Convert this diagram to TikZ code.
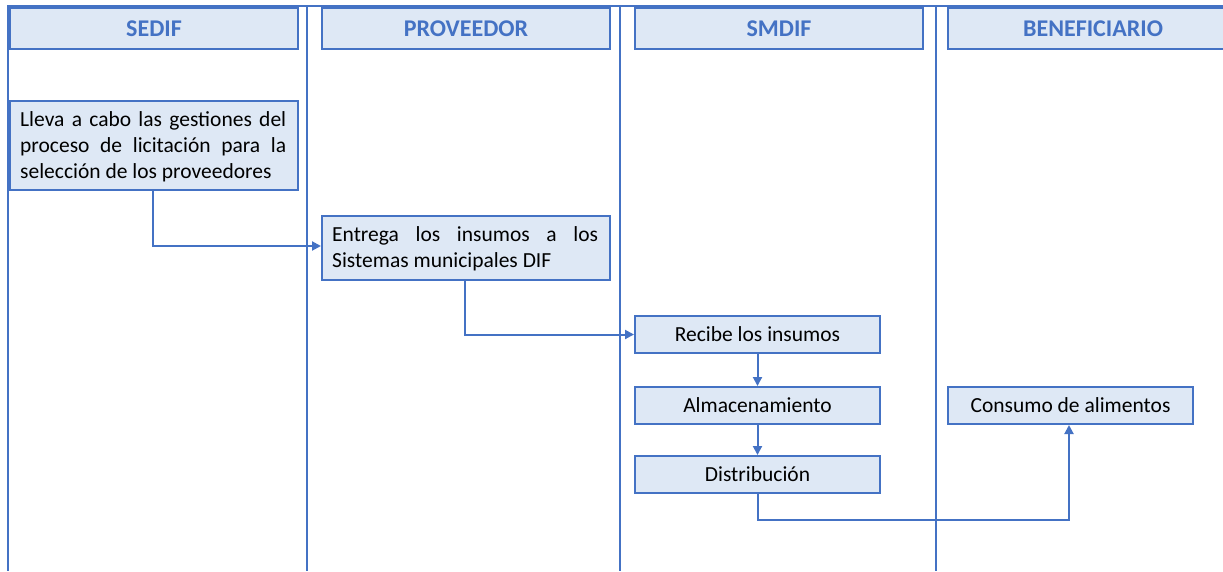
\documentclass[tikz,border=0pt]{standalone}
\usepackage{fontspec}
\setmainfont{Carlito}
\usetikzlibrary{arrows.meta}
\definecolor{lane}{HTML}{4472C4}
\definecolor{boxfill}{HTML}{DEE8F5}
\hbadness=10000
\begin{document}
\begin{tikzpicture}[x=1pt,y=-1pt,
  hdr/.style={draw=lane,fill=boxfill,line width=2pt,minimum height=41pt,minimum width=288pt,anchor=north west,inner sep=0pt,font=\fontsize{24}{28}\selectfont\bfseries,text=lane},
  proc/.style={draw=lane,fill=boxfill,line width=2pt,anchor=north west,inner sep=0pt,font=\fontsize{21.5}{26}\selectfont},
  ptext/.style={text width=266pt,align=justify,anchor=north west,inner sep=0pt,font=\fontsize{21.5}{26}\selectfont},
  conn/.style={draw=lane,line width=2pt,-{Triangle[length=9pt,width=9pt]}}]
\useasboundingbox (0,0) rectangle (1223,571);
% lanes
\draw[lane,line width=2pt] (1223,6) -- (8,6) -- (8,571);
\draw[lane,line width=2pt] (307,6) -- (307,571);
\draw[lane,line width=2pt] (620,6) -- (620,571);
\draw[lane,line width=2pt] (936,6) -- (936,571);
% headers
\node[hdr] (h1) at (9,7) {SEDIF};
\node[hdr] (h2) at (321,7) {PROVEEDOR};
\node[hdr] (h3) at (634,7) {SMDIF};
\node[hdr,minimum width=290pt] (h4) at (947,7) {BENEFICIARIO};
% process boxes
\node[proc,minimum width=288pt,minimum height=89pt] (b1) at (9,100) {};
\node[ptext] (t1) at (20,111) {\hyphenpenalty=10000\relax Lleva a cabo las gestiones del\linebreak proceso de licitación para la\linebreak selección de los proveedores};
\node[proc,minimum width=288pt,minimum height=64pt] (b2) at (321,215) {};
\node[ptext] (t2) at (332,226) {\hyphenpenalty=10000\relax Entrega los insumos a los\linebreak Sistemas municipales DIF};
\node[proc,minimum width=245pt,minimum height=37pt] (b3) at (634,315) {Recibe los insumos};
\node[proc,minimum width=245pt,minimum height=37pt] (b4) at (634,386) {Almacenamiento};
\node[proc,minimum width=245pt,minimum height=37pt] (b5) at (634,455) {Distribución};
\node[proc,minimum width=245pt,minimum height=37pt] (b6) at (947,386) {Consumo de alimentos};
% connectors
\draw[conn] (b1.south west) ++(144,0) |- (b2.west |- 0,246);
\draw[conn] (b2.south west) ++(144,0) |- (b3.west);
\draw[conn] (b3) -- (b4);
\draw[conn] (b4) -- (b5);
\draw[conn] (b5.south) |- (1069,520) -- (b6.south -| 1069,0);
\end{tikzpicture}
\end{document}
